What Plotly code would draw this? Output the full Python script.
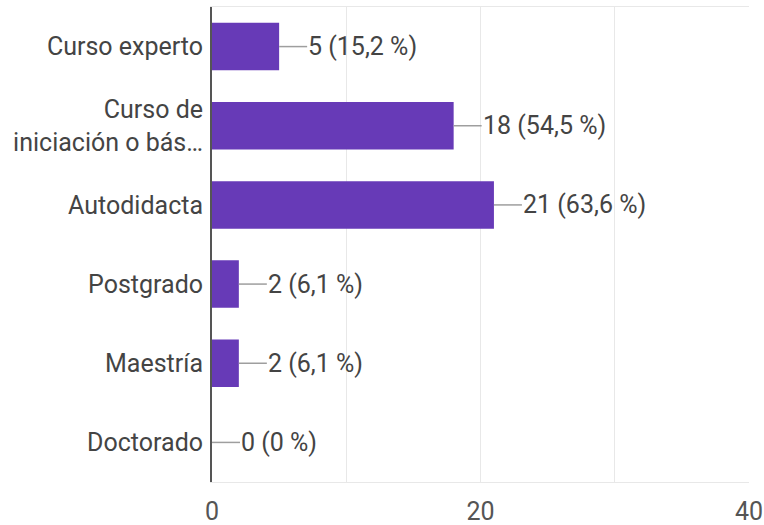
import plotly.graph_objects as go

categories = ["Curso experto", "Curso de<br>iniciación o bás…", "Autodidacta",
              "Postgrado", "Maestría", "Doctorado"]
counts = [5, 18, 21, 2, 2, 0]
percents = [15.2, 54.5, 63.6, 6.1, 6.1, 0]
x_tickvals = [0, 10, 20, 30, 40]
x_ticktext = ["0", "", "20", "", "40"]

BAR = "#673ab7"
TXT = "#444444"
FONT = "Roboto"
FS = 25

def fmt_pct(p):
    return "0" if p == 0 else f"{p:.1f}".replace(".", ",")

fig = go.Figure(go.Bar(
    x=counts, y=categories, orientation="h",
    marker=dict(color=BAR, line=dict(width=0)),
    width=0.6, hoverinfo="skip",
))

for c, v, p in zip(categories, counts, percents):
    fig.add_shape(type="line", xref="x", yref="y",
                  xsizemode="pixel", xanchor=v, x0=0, x1=28,
                  y0=c, y1=c, line=dict(color="#9e9e9e", width=1.5))
    fig.add_annotation(x=v, y=c, xref="x", yref="y", showarrow=False,
                       xanchor="left", yanchor="middle", xshift=27,
                       text=f"{v} ({fmt_pct(p)} %)",
                       font=dict(family=FONT, size=FS, color=TXT))

fig.update_layout(
    width=764, height=525,
    margin=dict(l=212, r=15, t=7, b=43),
    paper_bgcolor="white", plot_bgcolor="white",
    showlegend=False,
    bargap=0.4,
    font=dict(family=FONT, size=FS, color=TXT),
)
fig.update_xaxes(range=[0, 40], tickvals=x_tickvals, ticktext=x_ticktext,
                 showgrid=True, gridcolor="#e8e8e8", gridwidth=1,
                 zeroline=False, showline=True, linecolor="#e8e8e8", linewidth=1,
                 mirror=True, ticks="", ticklabelstandoff=7, automargin=False,
                 tickfont=dict(family=FONT, size=FS, color="#555555"))
fig.update_yaxes(autorange="reversed", showgrid=False, zeroline=False,
                 showline=True, linecolor="#555555", linewidth=2,
                 ticks="", ticklabelstandoff=2, automargin=False,
                 tickfont=dict(family=FONT, size=FS, color=TXT))

fig.write_html("out.html")
